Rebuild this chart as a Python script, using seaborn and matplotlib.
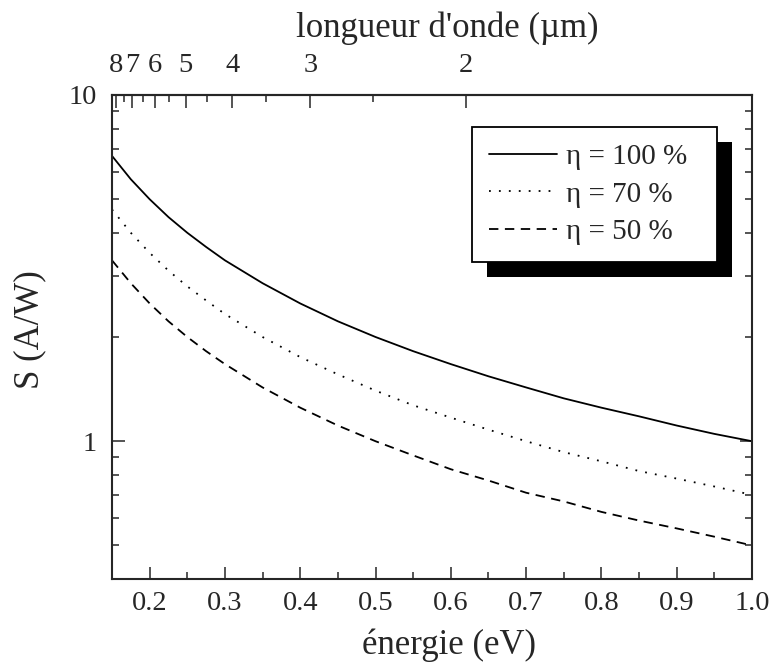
import numpy as np
import pandas as pd
import matplotlib
matplotlib.use("Agg")
import matplotlib.pyplot as plt
from matplotlib.patches import Rectangle
from matplotlib.lines import Line2D
import seaborn as sns

# ---- data ----
energy = [0.15, 0.175, 0.2, 0.225, 0.25, 0.275, 0.3, 0.35, 0.4, 0.45, 0.5,
          0.55, 0.6, 0.65, 0.7, 0.75, 0.8, 0.85, 0.9, 0.95, 1.0]
s_100 = [6.67, 5.71, 5.0, 4.44, 4.0, 3.64, 3.33, 2.86, 2.5, 2.22, 2.0,
         1.82, 1.67, 1.54, 1.43, 1.33, 1.25, 1.18, 1.11, 1.05, 1.0]
s_70 = [4.67, 4.0, 3.5, 3.11, 2.8, 2.55, 2.33, 2.0, 1.75, 1.56, 1.4,
        1.27, 1.17, 1.08, 1.0, 0.93, 0.875, 0.82, 0.78, 0.74, 0.7]
s_50 = [3.33, 2.86, 2.5, 2.22, 2.0, 1.82, 1.67, 1.43, 1.25, 1.11, 1.0,
        0.91, 0.83, 0.77, 0.71, 0.67, 0.625, 0.59, 0.56, 0.53, 0.5]
labels = ["η = 100 %", "η = 70 %", "η = 50 %"]
x_ticks = [0.2, 0.3, 0.4, 0.5, 0.6, 0.7, 0.8, 0.9, 1.0]
x_ticklabels = ["0.2", "0.3", "0.4", "0.5", "0.6", "0.7", "0.8", "0.9", "1.0"]
wl_ticks = [8, 7, 6, 5, 4, 3, 2]
wl_minor = [7.5, 6.5, 5.5, 4.5, 3.5, 2.5]

sns.set_style("ticks")
plt.rcParams["font.family"] = ["Liberation Serif", "DejaVu Serif"]

fig = plt.figure(figsize=(7.73, 6.63), dpi=100)
ax = fig.add_axes([112 / 773, 1 - 579 / 663, (752 - 112) / 773, (579 - 95) / 663])

LW = 1.3
styles = ["-", (0, (1, 4.5)), (0, (5.2, 3.6))]
for s, lab, ls in zip([s_100, s_70, s_50], labels, styles):
    df = pd.DataFrame({"E": energy, "S": s})
    sns.lineplot(data=df, x="E", y="S", ax=ax, color="black", linewidth=LW,
                 linestyle=ls, label=lab, legend=False)

ax.set_yscale("log")
ax.set_xlim(0.15, 1.0)
ax.set_ylim(0.4, 10)
ax.set_xticks(x_ticks)
ax.set_xticklabels(x_ticklabels)
ax.set_xticks(np.arange(0.15, 1.0, 0.1), minor=True)
ax.set_yticks([1, 10])
ax.set_yticklabels(["1", "10"])
ax.set_yticks([0.5, 0.6, 0.7, 0.8, 0.9, 2, 3, 4, 5, 6, 7, 8, 9], minor=True)
ax.yaxis.set_minor_formatter(matplotlib.ticker.NullFormatter())

for sp in ax.spines.values():
    sp.set_linewidth(1.5)
    sp.set_visible(True)
ax.tick_params(which="both", direction="in", top=False, right=True, width=1.1)
ax.tick_params(which="major", length=9, labelsize=20.5, pad=9)
ax.tick_params(which="minor", length=5)
ax.tick_params(axis="y", which="major", pad=11)

ax.set_xlabel("énergie (eV)", fontsize=25, labelpad=9)
ax.xaxis.label.set_x((449 - 112) / 640)
ax.set_ylabel("S (A/W)", fontsize=25, labelpad=16)
ax.yaxis.label.set_y((579 - 330) / 484)

def e2wl(e):
    e = np.asarray(e, dtype=float)
    with np.errstate(divide="ignore", invalid="ignore"):
        return 1.24 / e

sec = ax.secondary_xaxis("top", functions=(e2wl, e2wl))
sec.set_xticks(wl_ticks)
sec.set_xticklabels([str(v) for v in wl_ticks])
sec.set_xticks(wl_minor, minor=True)
sec.xaxis.set_minor_formatter(matplotlib.ticker.NullFormatter())
sec.tick_params(which="both", direction="in", width=1.1)
sec.tick_params(which="major", length=9, labelsize=20.5, pad=12)
sec.tick_params(which="minor", length=5)
sec.spines["top"].set_linewidth(1.5)
sec.set_xlabel("longueur d'onde (µm)", fontsize=25, labelpad=12)
sec.xaxis.label.set_x((447 - 112) / 640)

handles = [Line2D([], [], color="black", lw=LW, linestyle=ls) for ls in styles]
leg = ax.legend(handles, labels, loc="upper left",
                bbox_to_anchor=(472 / 773, (663 - 262) / 663, 245 / 773, 135 / 663),
                bbox_transform=fig.transFigure, borderaxespad=0, mode="expand",
                fontsize=21, frameon=True, fancybox=False, shadow=False,
                handlelength=2.35, handletextpad=0.3, labelspacing=0.38,
                borderpad=0.57, framealpha=1)
leg.get_frame().set_edgecolor("black")
leg.get_frame().set_linewidth(1.3)
leg.set_zorder(6)

fig.canvas.draw()
bb = leg.get_window_extent()
inv = ax.transAxes.inverted()
(x0, y0) = inv.transform((bb.x0 + 15, bb.y0 - 15))
(x1, y1) = inv.transform((bb.x1 + 15, bb.y1 - 15))
ax.add_patch(Rectangle((x0, y0), x1 - x0, y1 - y0, transform=ax.transAxes,
                       facecolor="black", edgecolor="none", zorder=5.5,
                       clip_on=False))

fig.savefig("out.png", dpi=100)
